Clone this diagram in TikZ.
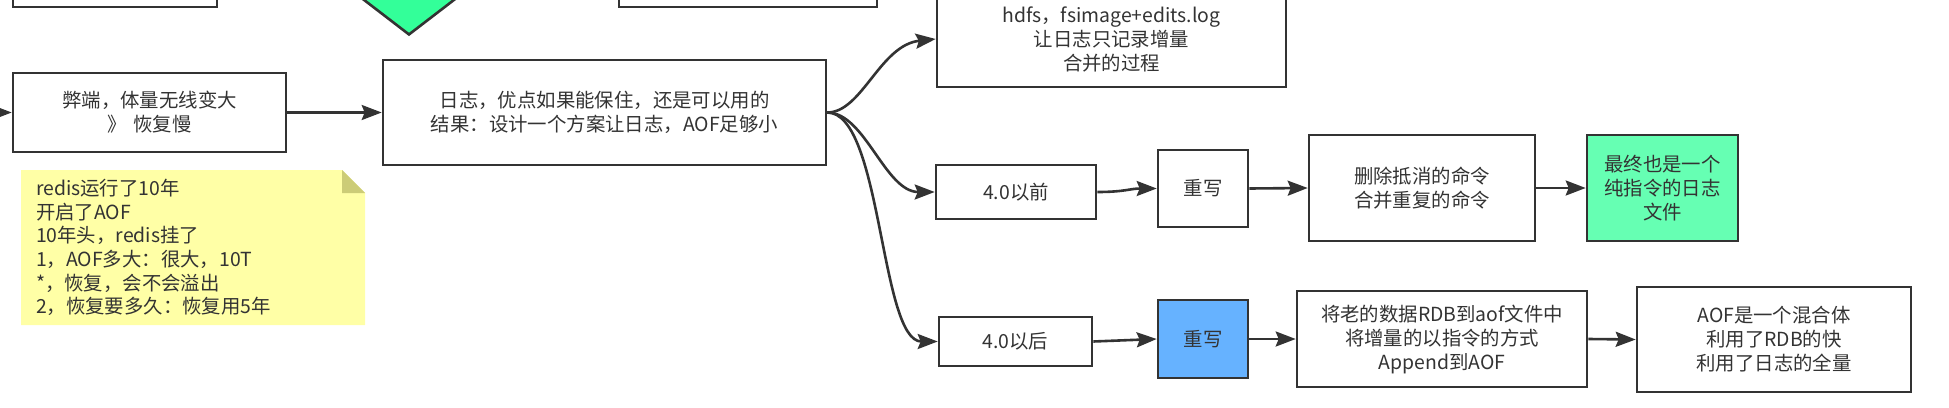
\documentclass[tikz,border=0pt]{standalone}
\usepackage{fontspec}
\setmainfont{Noto Sans CJK SC}
\usetikzlibrary{arrows.meta,shapes.geometric}
\definecolor{ln}{HTML}{333333}
\definecolor{txt}{HTML}{333333}
\definecolor{dgreen}{HTML}{33FF99}
\definecolor{bgreen}{HTML}{66FFB3}
\definecolor{bblue}{HTML}{66B2FF}
\definecolor{noteY}{HTML}{FFFFA6}
\definecolor{noteF}{HTML}{CCCC77}
\begin{document}
\begin{tikzpicture}[x=1pt,y=-1pt,
  box/.style={draw=ln, line width=2.6pt, inner sep=0pt, align=center, text=txt,
    font=\fontsize{19.4}{24}\selectfont},
  arr/.style={draw=ln, line width=2.6pt, -{Stealth[length=20pt,width=15pt,inset=3pt]}},
  notetext/.style={inner xsep=15pt, inner ysep=0pt, align=left, text=txt,
    font=\fontsize{19.4}{23.6}\selectfont},
]
\useasboundingbox (0,0) rectangle (1949,407);
\clip (0,0) rectangle (1949,407);

% partial shapes at the top
\node[box, minimum width=204pt, minimum height=54pt] (tl) at (115,-20) {};
\node[draw=ln, line width=2.6pt, fill=dgreen, diamond, inner sep=0pt,
      minimum width=182pt, minimum height=140pt] (dia) at (409,-35) {};
\node[box, minimum width=258pt, minimum height=54pt] (tm) at (748,-20) {};

% main row
\coordinate (in) at (-40,112.5);
\node[box, minimum width=273pt, minimum height=79pt] (bd) at (149.5,112.5)
  {弊端，体量无线变大\\》\hspace{0.35em}恢复慢};
\node[box, minimum width=443pt, minimum height=105pt] (rz) at (604.5,112.5)
  {日志，优点如果能保住，还是可以用的\\结果：设计一个方案让日志，AOF足够小};

% note
\fill[noteY] (21,170) -- (342,170) -- (365,193) -- (365,325) -- (21,325) -- cycle;
\fill[noteF] (342,170) -- (342,193) -- (365,193) -- cycle;
\node[notetext, text width=314pt, minimum width=344pt, minimum height=155pt] (note) at (193,247.5)
  {redis运行了10年\\开启了AOF\\10年头，redis挂了\\1，AOF多大：很大，10T\\{}*，恢复，会不会溢出\\2，恢复要多久：恢复用5年};

% branches
\node[box, minimum width=349pt, minimum height=96pt] (hdfs) at (1111.5,39)
  {hdfs，fsimage+edits.log\\让日志只记录增量\\合并的过程};
\node[box, minimum width=160pt, minimum height=54pt] (q) at (1016,192) {4.0以前};
\node[box, minimum width=90pt, minimum height=77pt] (cx1) at (1203,188.5) {重写};
\node[box, minimum width=226pt, minimum height=106pt] (sc) at (1422,188) {删除抵消的命令\\合并重复的命令};
\node[box, fill=bgreen, minimum width=151pt, minimum height=106pt] (zz) at (1662.5,188) {最终也是一个\\纯指令的日志\\文件};

\node[box, minimum width=153pt, minimum height=49pt] (h) at (1015.5,341.5) {4.0以后};
\node[box, fill=bblue, minimum width=90pt, minimum height=78pt] (cx2) at (1203,339) {重写};
\node[box, minimum width=290pt, minimum height=96pt] (jl) at (1442,339) {将老的数据RDB到aof文件中\\将增量的以指令的方式\\Append到AOF};
\node[box, minimum width=274pt, minimum height=105pt] (aof) at (1774,339.5) {AOF是一个混合体\\利用了RDB的快\\利用了日志的全量};

% connectors
\draw[arr] (in) -- (bd.west);
\draw[arr] (bd.east) -- (rz.west);
\draw[arr] (rz.east) .. controls (862,112.5) and (880,45) .. (hdfs.west);
\draw[arr] (rz.east) .. controls (865,112.5) and (885,192) .. (q.west);
\draw[arr] (rz.east) .. controls (882,112.5) and (880,341.5) .. (h.west);
\draw[arr] (q.east) .. controls (1125,192) and (1130,188.5) .. (cx1.west);
\draw[arr] (cx1.east) -- (sc.west);
\draw[arr] (sc.east) -- (zz.west);
\draw[arr] (h.east) -- (cx2.west);
\draw[arr] (cx2.east) -- (jl.west);
\draw[arr] (jl.east) -- (aof.west);
\end{tikzpicture}
\end{document}
